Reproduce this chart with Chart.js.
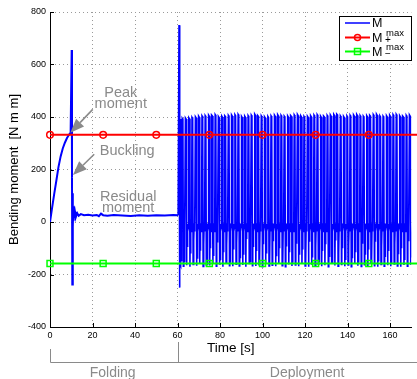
<!DOCTYPE html>
<html>
<head>
<meta charset="utf-8">
<script src="https://cdn.jsdelivr.net/npm/chart.js@4"></script>
<style>
  html, body { margin: 0; padding: 0; background: #fff; }
  canvas { display: block; }
</style>
</head>
<body>
<canvas id="momentChart" width="417" height="379"></canvas>
<script>
const FONT = '"Liberation Sans", Arial, Helvetica, sans-serif';
const GREY = '#8a8a8a';

// folding phase: ramp, peak, buckling, residual moment
const foldTime = [0, 1, 2, 3, 4, 5, 6, 7, 8, 9,
  9.7, 10.2, 10.35, 10.5, 10.65, 10.8, 10.95, 11.1, 11.3, 11.5,
  11.8, 12.2, 12.8, 13.5, 14.5, 16, 18, 20, 22, 23,
  24, 25, 27, 30, 34, 38, 42, 46, 50, 54,
  58, 60.3];
const foldMoment = [0, 55, 108, 158, 210, 250, 280, 302, 320, 333,
  340, 655, 170, -238, 110, -20, 60, 5, 45, 15,
  38, 20, 34, 24, 30, 26, 28, 25, 27, 22,
  32, 26, 24, 27, 25, 23, 26, 24, 26, 25,
  27, 26];

// start of deployment (spike at ~60 s)
const transTime = [60.3, 60.7, 60.95, 61.1, 61.25, 61.4, 61.55, 61.7, 61.85];
const transMoment = [26, 750, -250, 385, -160, 392, -165, 388, -150];

// deployment cycles: start time, peak, trough and secondary dip of each cycle
const deployTime = [62.0, 63.5, 65.1, 66.6, 68.2, 69.7, 71.3, 72.8, 74.4, 75.9,
  77.5, 79.0, 80.6, 82.1, 83.7, 85.2, 86.8, 88.3, 89.9, 91.4,
  93.0, 94.5, 96.1, 97.6, 99.2, 100.7, 102.3, 103.8, 105.4, 106.9,
  108.5, 110.0, 111.6, 113.1, 114.7, 116.2, 117.8, 119.3, 120.9, 122.4,
  124.0, 125.5, 127.1, 128.6, 130.2, 131.7, 133.3, 134.8, 136.4, 137.9,
  139.5, 141.0, 142.6, 144.1, 145.7, 147.2, 148.8, 150.3, 151.9, 153.4,
  155.0, 156.5, 158.1, 159.6, 161.2, 162.7, 164.3, 165.8, 167.4, 168.9];
const deployPeak = [395, 396, 397, 399, 401, 403, 404, 405, 407, 408,
  409, 402, 403, 405, 406, 408, 409, 410, 402, 403,
  405, 407, 411, 406, 404, 401, 402, 404, 407, 409,
  406, 403, 404, 406, 408, 410, 404, 402, 403, 405,
  407, 409, 403, 404, 406, 408, 410, 411, 404, 402,
  404, 406, 408, 410, 405, 403, 405, 407, 409, 411,
  404, 403, 405, 407, 409, 410, 405, 404, 406, 408];
const deployTrough = [-168, -165, -170, -162, -167, -158, -169, -164, -166, -160,
  -168, -163, -170, -155, -166, -169, -161, -167, -164, -170,
  -158, -166, -168, -163, -170, -160, -167, -165, -169, -157,
  -166, -170, -162, -168, -164, -169, -159, -167, -170, -163,
  -168, -161, -169, -165, -170, -158, -166, -168, -162, -169,
  -164, -170, -160, -167, -169, -163, -168, -156, -166, -170,
  -162, -168, -165, -169, -160, -167, -170, -164, -168, -163];
const deployDip = [-150, -95, -120, -70, -140, -110, -85, -160, -100, -130,
  -75, -145, -115, -90, -155, -105, -80, -135, -125, -65,
  -150, -95, -110, -140, -85, -120, -160, -70, -130, -100,
  -145, -90, -115, -155, -80, -125, -105, -140, -75, -135,
  -95, -150, -110, -85, -130, -160, -70, -120, -100, -145,
  -90, -135, -115, -155, -80, -125, -105, -140, -75, -150,
  -95, -130, -110, -160, -85, -120, -100, -145, -70, -135];
// ripple band between the spikes
const bandLevel = [-20, -5, -38, -8, -36];

// limit lines
const limitTime = [0, 25, 50, 75, 100, 125, 150, 175];
const plusMax = [332, 332, 332, 332, 332, 332, 332, 332];
const minusMax = [-158, -158, -158, -158, -158, -158, -158, -158];

const foldPoints = foldTime.map((t, i) => ({ x: t, y: foldMoment[i] }));

const deployPoints = transTime.map((t, i) => ({ x: t, y: transMoment[i] }));
deployTime.forEach((t, i) => {
  deployPoints.push({ x: t, y: bandLevel[0] });
  deployPoints.push({ x: t + 0.22, y: deployPeak[i] });
  deployPoints.push({ x: t + 0.52, y: deployPeak[i] - 4 });
  deployPoints.push({ x: t + 0.75, y: deployTrough[i] });
  deployPoints.push({ x: t + 0.9, y: bandLevel[1] });
  deployPoints.push({ x: t + 1.03, y: bandLevel[2] });
  deployPoints.push({ x: t + 1.13, y: deployDip[i] });
  deployPoints.push({ x: t + 1.23, y: bandLevel[3] });
  deployPoints.push({ x: t + 1.37, y: bandLevel[4] });
});

const drawArrow = (c, x0, y0, x1, y1) => {
  const ang = Math.atan2(y1 - y0, x1 - x0);
  const headLen = 14;
  const headHalf = 5.5;
  const bx = x1 - headLen * Math.cos(ang);
  const by = y1 - headLen * Math.sin(ang);
  c.beginPath();
  c.moveTo(x0, y0);
  c.lineTo(bx, by);
  c.stroke();
  c.beginPath();
  c.moveTo(x1, y1);
  c.lineTo(bx + headHalf * Math.sin(ang), by - headHalf * Math.cos(ang));
  c.lineTo(bx - headHalf * Math.sin(ang), by + headHalf * Math.cos(ang));
  c.closePath();
  c.fill();
};

const annotations = {
  id: 'annotations',
  afterDatasetsDraw(chart) {
    const c = chart.ctx;
    const xs = chart.scales.x;
    const ys = chart.scales.y;
    const px = (t) => xs.getPixelForValue(t);
    const py = (m) => ys.getPixelForValue(m);

    c.save();
    c.fillStyle = GREY;
    c.strokeStyle = GREY;
    c.lineWidth = 1.6;
    c.font = '14.5px ' + FONT;
    c.textAlign = 'center';
    c.textBaseline = 'alphabetic';
    c.fillText('Peak', px(33.3), py(477));
    c.fillText('moment', px(33.3), py(433));
    c.fillText('Buckling', px(36.3), py(255));
    c.fillText('Residual', px(36.8), py(81));
    c.fillText('moment', px(36.8), py(37));
    drawArrow(c, px(20.1), py(429), px(9.6), py(340));
    drawArrow(c, px(20.8), py(258), px(10.8), py(179));

    // inward tick marks
    c.strokeStyle = '#000';
    c.lineWidth = 1;
    const area = chart.chartArea;
    xs.ticks.forEach((tk) => {
      const x = Math.round(px(tk.value)) + 0.5;
      c.beginPath();
      c.moveTo(x, area.bottom);
      c.lineTo(x, area.bottom - 4);
      c.stroke();
    });
    ys.ticks.forEach((tk) => {
      const y = Math.round(py(tk.value)) + 0.5;
      c.beginPath();
      c.moveTo(area.left, y);
      c.lineTo(area.left + 4, y);
      c.stroke();
    });

    // phase bracket below the axis
    c.strokeStyle = GREY;
    c.lineWidth = 1;
    const x0 = Math.round(px(0)) + 0.5;
    const x60 = Math.round(px(60)) + 0.5;
    c.beginPath();
    c.moveTo(x0, 349);
    c.lineTo(x0, 362.5);
    c.lineTo(chart.width, 362.5);
    c.moveTo(x60, 342);
    c.lineTo(x60, 362.5);
    c.stroke();
    c.font = '14px ' + FONT;
    c.fillText('Folding', px(29.5), 377);
    c.fillText('Deployment', px(121), 377);
    c.restore();
  },
  afterDraw(chart) {
    const c = chart.ctx;
    c.save();
    c.fillStyle = '#fff';
    c.fillRect(339, 16, 72, 44);
    c.strokeStyle = '#000';
    c.lineWidth = 1;
    c.strokeRect(339.5, 16.5, 72, 44);

    const rows = [
      { y: 23, color: '#0000ff', marker: null, sup: '', sub: '' },
      { y: 37.5, color: '#ff0000', marker: 'circle', sup: 'max', sub: '+' },
      { y: 51.5, color: '#00ff00', marker: 'rect', sup: 'max', sub: '\u2212' }
    ];
    rows.forEach((r) => {
      c.strokeStyle = r.color;
      c.lineWidth = r.marker ? 2 : 1.5;
      c.beginPath();
      c.moveTo(345, r.y);
      c.lineTo(370, r.y);
      c.stroke();
      c.lineWidth = 1.5;
      if (r.marker === 'circle') {
        c.beginPath();
        c.arc(357.5, r.y, 3, 0, Math.PI * 2);
        c.stroke();
      } else if (r.marker === 'rect') {
        c.strokeRect(354.5, r.y - 3, 6, 6);
      }
      c.fillStyle = '#000';
      c.font = '12.5px ' + FONT;
      c.textAlign = 'left';
      c.textBaseline = 'alphabetic';
      c.fillText('M', 372, r.y + 4);
      if (r.sup) {
        c.font = '9.5px ' + FONT;
        c.fillText(r.sup, 386, r.y - 2);
        c.font = '10px ' + FONT;
        c.fillText(r.sub, 385, r.y + 5.5);
      }
    });
    c.restore();
  }
};

const ctx = document.getElementById('momentChart');

new Chart(ctx, {
  type: 'line',
  data: {
    datasets: [{
      label: 'M+max',
      data: limitTime.map((t, i) => ({ x: t, y: plusMax[i] })),
      borderColor: '#ff0000',
      borderWidth: 2,
      pointStyle: 'circle',
      pointRadius: 3.3,
      pointBorderWidth: 1.5,
      pointBorderColor: '#ff0000',
      pointBackgroundColor: 'rgba(0,0,0,0)',
      clip: false
    }, {
      label: 'M-max',
      data: limitTime.map((t, i) => ({ x: t, y: minusMax[i] })),
      borderColor: '#00ff00',
      borderWidth: 2,
      pointStyle: 'rect',
      pointRadius: 4.2,
      pointBorderWidth: 1.5,
      pointBorderColor: '#00ff00',
      pointBackgroundColor: 'rgba(0,0,0,0)',
      clip: false
    }, {
      label: 'M',
      data: foldPoints,
      borderColor: '#0000ff',
      borderWidth: 2,
      pointRadius: 0
    }, {
      label: 'M deploy',
      data: deployPoints,
      borderColor: '#0000ff',
      borderWidth: 1.6,
      pointRadius: 0
    }]
  },
  options: {
    responsive: false,
    animation: false,
    events: [],
    layout: { padding: { top: 12, right: 0, left: 0, bottom: 0 } },
    elements: { line: { tension: 0 } },
    plugins: {
      legend: { display: false },
      tooltip: { enabled: false }
    },
    scales: {
      x: {
        type: 'linear',
        min: 0,
        max: 170,
        afterFit: (scale) => { scale.height = 52; },
        ticks: {
          stepSize: 20,
          includeBounds: false,
          padding: 3,
          maxRotation: 0,
          color: '#000',
          font: { family: FONT, size: 9 }
        },
        grid: { color: '#9a9a9a', lineWidth: 1, drawTicks: false },
        border: { color: '#000', width: 1, dash: [1, 3] },
        title: {
          display: true,
          text: 'Time [s]',
          color: '#000',
          font: { family: FONT, size: 13.5 },
          padding: { top: 0, bottom: 23 }
        }
      },
      y: {
        type: 'linear',
        min: -400,
        max: 800,
        afterFit: (scale) => { scale.width = 50; },
        ticks: {
          stepSize: 200,
          padding: 4,
          color: '#000',
          font: { family: FONT, size: 9 }
        },
        grid: { color: '#9a9a9a', lineWidth: 1, drawTicks: false },
        border: { color: '#000', width: 1, dash: [1, 3] },
        title: {
          display: true,
          text: 'Bending moment  [N m m]',
          color: '#000',
          font: { family: FONT, size: 13 },
          padding: { top: 7, bottom: 0 }
        }
      }
    }
  },
  plugins: [annotations]
});
</script>
</body>
</html>
